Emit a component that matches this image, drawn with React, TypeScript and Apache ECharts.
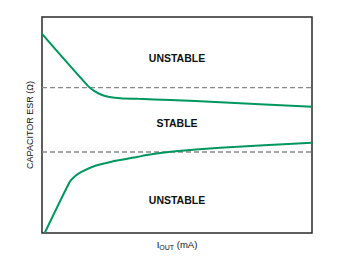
import React, { useEffect, useRef } from "react";
import * as echarts from "echarts";

// Upper boundary of the stable region: [I_OUT (relative), ESR (relative)]
const upperCurve: [number, number][] = [
  [0, 92.2],
  [17.1, 68.0],
  [19.3, 65.8],
  [22.0, 64.0],
  [25.0, 63.0],
  [29.0, 62.4],
  [35.6, 62.1],
  [47.5, 61.6],
  [66.0, 60.5],
  [100, 58.5],
];

// Lower boundary of the stable region
const lowerCurve: [number, number][] = [
  [1.0, 0],
  [10.3, 23.7],
  [12.2, 26.3],
  [14.6, 28.3],
  [19.5, 31.0],
  [25.7, 33.0],
  [35.6, 35.3],
  [40.0, 36.3],
  [47.5, 37.6],
  [66.0, 39.5],
  [100, 41.8],
];

// Dashed reference ESR levels
const refLevels: number[] = [67.3, 37.5];

const regionLabels = [
  { text: "UNSTABLE", y: 81 },
  { text: "STABLE", y: 51 },
  { text: "UNSTABLE", y: 15.5 },
];

const FONT = '"Liberation Sans", Arial, Helvetica, sans-serif';
const GREEN = "#00975f";

export default function App() {
  const ref = useRef<HTMLDivElement>(null);
  useEffect(() => {
    document.body.style.margin = "0";
    if (!ref.current) return;
    const chart = echarts.init(ref.current, null, { renderer: "svg" });
    const left = 42;
    const right = 28;
    const top = 17;
    const bottom = 32;
    const plotW = 340 - left - right;
    const plotH = 265 - top - bottom;
    const cx = 177;
    const yPix = (v: number) => top + plotH * (1 - v / 100);

    chart.setOption({
      animation: false,
      backgroundColor: "#ffffff",
      grid: {
        left,
        right,
        top,
        bottom,
        show: true,
        borderColor: "#2a2a2a",
        borderWidth: 1.5,
        backgroundColor: "transparent",
      },
      xAxis: {
        type: "value",
        min: 0,
        max: 100,
        axisLine: { show: false },
        axisTick: { show: false },
        axisLabel: { show: false },
        splitLine: { show: false },
      },
      yAxis: {
        type: "value",
        min: 0,
        max: 100,
        axisLine: { show: false },
        axisTick: { show: false },
        axisLabel: { show: false },
        splitLine: { show: false },
      },
      series: [
        ...refLevels.map((lv) => ({
          type: "line",
          data: [
            [0, lv],
            [100, lv],
          ],
          symbol: "none",
          silent: true,
          lineStyle: { color: "#8a8a8a", width: 1.4, type: [5, 3] },
          z: 1,
        })),
        {
          type: "line",
          data: upperCurve,
          symbol: "none",
          smooth: 0.3,
          lineStyle: { color: GREEN, width: 2 },
          z: 3,
        },
        {
          type: "line",
          data: lowerCurve,
          symbol: "none",
          smooth: 0.2,
          lineStyle: { color: GREEN, width: 2 },
          z: 3,
        },
      ],
      graphic: [
        ...regionLabels.map((l) => ({
          type: "text",
          x: cx,
          y: yPix(l.y),
          style: {
            text: l.text,
            font: `bold 10.5px ${FONT}`,
            fill: "#111",
            textAlign: "center",
            textVerticalAlign: "middle",
          },
        })),
        {
          type: "text",
          x: 30,
          y: top + plotH / 2,
          rotation: Math.PI / 2,
          style: {
            text: "CAPACITOR ESR (Ω)",
            font: `9px ${FONT}`,
            fill: "#111",
            textAlign: "center",
            textVerticalAlign: "middle",
          },
        },
        {
          type: "text",
          x: 177,
          y: 244,
          style: {
            text: "{a|I}{b|OUT}{a| (mA)}",
            textAlign: "center",
            textVerticalAlign: "middle",
            rich: {
              a: {
                fontFamily: FONT,
                fontSize: 9.5,
                fill: "#111",
                color: "#111",
                lineHeight: 14,
                verticalAlign: "middle",
              },
              b: {
                fontFamily: FONT,
                fontSize: 7,
                fill: "#111",
                color: "#111",
                lineHeight: 14,
                verticalAlign: "bottom",
              },
            },
          },
        },
      ],
    });
    return () => chart.dispose();
  }, []);
  return <div ref={ref} style={{ width: 340, height: 265 }} />;
}
